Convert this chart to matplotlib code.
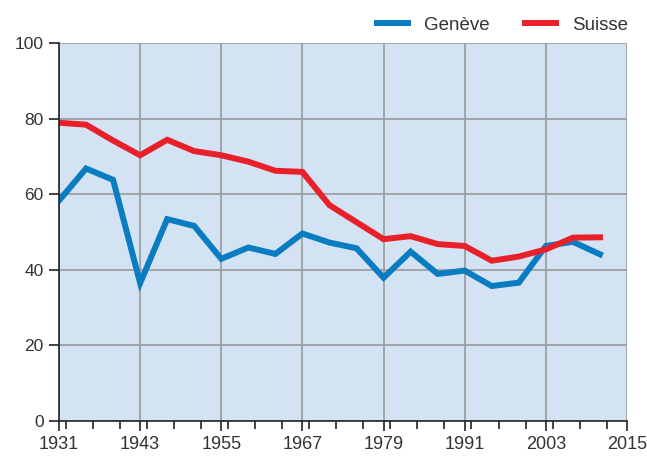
import matplotlib.pyplot as plt
from matplotlib.ticker import MultipleLocator

plt.rcParams['font.family'] = ['Liberation Sans', 'DejaVu Sans']

# élections fédérales, taux de participation (%)
annees = [1931, 1935, 1939, 1943, 1947, 1951, 1955, 1959, 1963, 1967, 1971,
          1975, 1979, 1983, 1987, 1991, 1995, 1999, 2003, 2007, 2011]
geneve = [58.3, 66.8, 63.8, 36.5, 53.4, 51.6, 42.9, 45.9, 44.2, 49.6, 47.2,
          45.7, 37.9, 44.8, 38.9, 39.8, 35.7, 36.6, 46.3, 47.4, 44.1]
suisse = [78.9, 78.4, 74.2, 70.3, 74.4, 71.4, 70.3, 68.6, 66.2, 65.9, 57.1,
          52.6, 48.1, 48.9, 46.8, 46.3, 42.4, 43.5, 45.4, 48.5, 48.6]

fig = plt.figure(figsize=(6.47, 4.57), dpi=100)
ax = fig.add_axes([59 / 647, 36 / 457, 568 / 647, 378 / 457])
ax.set_facecolor('#d4e3f3')

ax.plot(annees, geneve, color='#0a7cc1', lw=4.3, label='Genève', solid_joinstyle='miter')
ax.plot(annees, suisse, color='#e8202a', lw=4.3, label='Suisse', solid_joinstyle='miter')

ax.set_xlim(1931, 2015)
ax.set_ylim(0, 100)
ax.set_xticks(range(1931, 2016, 12))
ax.xaxis.set_minor_locator(MultipleLocator(4))
ax.set_yticks(range(0, 101, 20))
ax.grid(True, color='#9a9a9a', lw=1.2)
ax.set_axisbelow(True)

for s in ['top', 'right']:
    ax.spines[s].set_visible(False)
for s in ['left', 'bottom']:
    ax.spines[s].set_color('#222222')
    ax.spines[s].set_linewidth(1.2)

ax.tick_params(axis='both', which='major', direction='out', length=7, width=1.2,
               color='#222222', labelcolor='#333333', pad=4)
ax.tick_params(axis='x', labelsize=13)
ax.tick_params(axis='y', labelsize=12.5)
ax.tick_params(axis='x', which='minor', direction='out', length=6, width=1.2, color='#222222')

leg = ax.legend(loc='lower right', bbox_to_anchor=(1.018, 1.0), ncol=2, frameon=False,
                fontsize=13.5, handlelength=1.65, handletextpad=0.85, columnspacing=1.9,
                borderaxespad=0.1)
for t in leg.get_texts():
    t.set_color('#333333')

fig.savefig('out.png', dpi=100)
